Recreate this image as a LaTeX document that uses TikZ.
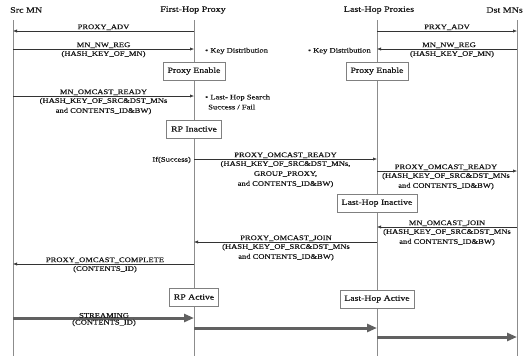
\documentclass[tikz,border=0pt]{standalone}
\usepackage{fontspec}
\setmainfont{Liberation Serif}[FakeStretch=1.22,FakeBold=0.5]
\usetikzlibrary{arrows.meta}
\begin{document}
\begin{tikzpicture}[x=1pt,y=-1pt,
 life/.style={draw=black!45,line width=0.7pt},
 msg/.style={draw=black!80,line width=0.6pt,-{Latex[length=4pt,width=3.2pt]}},
 stream/.style={draw=black!62,line width=3pt,-{Triangle[length=10pt,width=8pt]}},
 lbl/.style={font=\fontsize{7}{10}\selectfont,text=black!90,inner sep=0.8pt,align=center},
 head/.style={font=\fontsize{8.2}{10}\selectfont,text=black!90,inner sep=0pt},
 state/.style={draw=black!50,fill=white,line width=0.6pt,font=\fontsize{8}{10}\selectfont,text=black!90,minimum height=18pt,inner xsep=4.5pt,inner ysep=0pt},
 note/.style={font=\fontsize{7}{10}\selectfont,text=black!90,inner sep=0pt,align=left}]
\fill[white] (0,0) rectangle (531,359);
\useasboundingbox (0,0) rectangle (531,359);
% headers
\node[head,anchor=west] (hS) at (10,10) {Src MN};
\node[head] (hF) at (193,10) {First-Hop Proxy};
\node[head] (hL) at (379,10) {Last-Hop Proxies};
\node[head,anchor=east] (hD) at (523,10) {Dst MNs};
% lifelines
\coordinate (S) at (13,20); \coordinate (Sb) at (13,356);
\coordinate (F) at (194,20); \coordinate (Fb) at (194,356);
\coordinate (L) at (377,20); \coordinate (Lb) at (377,356);
\coordinate (D) at (517,20); \coordinate (Db) at (517,356);
\draw[life] (S) -- (Sb);
\draw[life] (F) -- (Fb);
\draw[life] (L) -- (Lb);
\draw[life] (D) -- (Db);
% 1
\draw[msg] (F |- 0,31) -- (S |- 0,31);
\node[lbl,anchor=south] (m1) at (103.5,31) {PROXY\_ADV};
\draw[msg] (L |- 0,31) -- (D |- 0,31);
\node[lbl,anchor=south] (m2) at (447,31) {PRXY\_ADV};
% 2
\draw[msg] (S |- 0,49) -- (F |- 0,49);
\node[lbl,anchor=south] (m3) at (103.5,49) {MN\_NW\_REG};
\node[lbl,anchor=north] (m3b) at (103.5,50) {(HASH\_KEY\_OF\_MN)};
\draw[msg] (D |- 0,49) -- (L |- 0,49);
\node[lbl,anchor=south] (m4) at (449,49) {MN\_NW\_REG};
\node[lbl,anchor=north] (m4b) at (452,50) {(HASH\_KEY\_OF\_MN)};
\node[note,anchor=west] (k1) at (205,51) {\textbullet\ Key Distribution};
\node[note,anchor=east] (k2) at (371,51) {\textbullet\ Key Distribution};
\node[state] (pe1) at (194,71) {Proxy Enable};
\node[state] (pe2) at (377,71) {Proxy Enable};
% 3
\draw[msg] (S |- 0,96) -- (F |- 0,96);
\node[lbl,anchor=south] (m5) at (103.5,96) {MN\_OMCAST\_READY};
\node[lbl,anchor=north] (m5b) at (103.5,97) {(HASH\_KEY\_OF\_SRC\&DST\_MNs\\and CONTENTS\_ID\&BW)};
\node[note,anchor=west] (k3) at (205,102) {\textbullet\ Last- Hop Search\\\hspace*{3pt}Success / Fail};
\node[state] (rpi) at (194,129) {RP Inactive};
% 4
\node[note,anchor=east] (ifs) at (191,160) {If(Success)};
\draw[msg] (F |- 0,159) -- (L |- 0,159);
\node[lbl,anchor=south] (m6) at (285.5,159) {PROXY\_OMCAST\_READY};
\node[lbl,anchor=north] (m6b) at (285.5,160) {(HASH\_KEY\_OF\_SRC\&DST\_MNs,\\GROUP\_PROXY,\\and CONTENTS\_ID\&BW)};
\draw[msg] (L |- 0,171) -- (D |- 0,171);
\node[lbl,anchor=south] (m7) at (446,171) {PROXY\_OMCAST\_READY};
\node[lbl,anchor=north] (m7b) at (446,172) {(HASH\_KEY\_OF\_SRC\&DST\_MNs\\and CONTENTS\_ID\&BW)};
\node[state] (lhi) at (377,203) {Last-Hop Inactive};
% 5
\draw[msg] (D |- 0,227) -- (L |- 0,227);
\node[lbl,anchor=south] (m8) at (447,227) {MN\_OMCAST\_JOIN};
\node[lbl,anchor=north] (m8b) at (447,228) {(HASH\_KEY\_OF\_SRC\&DST\_MNs\\and CONTENTS\_ID\&BW)};
\draw[msg] (L |- 0,242) -- (F |- 0,242);
\node[lbl,anchor=south] (m9) at (286,242) {PROXY\_OMCAST\_JOIN};
\node[lbl,anchor=north] (m9b) at (286,243) {(HASH\_KEY\_OF\_SRC\&DST\_MNs\\and CONTENTS\_ID\&BW)};
\draw[msg] (F |- 0,264) -- (S |- 0,264);
\node[lbl,anchor=south] (m10) at (105,264) {PROXY\_OMCAST\_COMPLETE};
\node[lbl,anchor=north] (m10b) at (105,265) {(CONTENTS\_ID)};
\node[state] (rpa) at (194,297) {RP Active};
\node[state] (lha) at (377,299) {Last-Hop Active};
% streaming
\draw[stream] (S |- 0,318) -- (F |- 0,318);
\node[lbl,anchor=south,inner sep=0pt] (m11) at (104,318) {STREAMING};
\node[lbl,anchor=north,inner sep=0.5pt] (m11b) at (104,319) {(CONTENTS\_ID)};
\draw[stream] (F |- 0,328) -- (L |- 0,328);
\draw[stream] (L |- 0,337) -- (D |- 0,337);
\end{tikzpicture}
\end{document}
